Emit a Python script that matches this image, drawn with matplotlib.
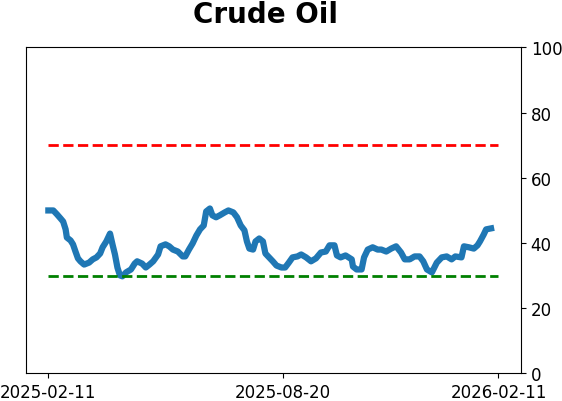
"""
Crude Oil indicator chart
"""
import matplotlib
matplotlib.use('Agg')
import matplotlib.pyplot as plt
import matplotlib.dates as mdates
import pandas as pd

# DATA
#####################
dates = ['2025-02-11', '2025-02-15', '2025-02-18', '2025-02-21', '2025-02-23', '2025-02-25',
         '2025-02-26', '2025-03-01', '2025-03-03', '2025-03-05', '2025-03-07', '2025-03-09',
         '2025-03-12', '2025-03-16', '2025-03-19', '2025-03-22', '2025-03-25', '2025-03-27',
         '2025-03-30', '2025-04-02', '2025-04-04', '2025-04-06', '2025-04-08', '2025-04-10',
         '2025-04-12', '2025-04-15', '2025-04-19', '2025-04-22', '2025-04-24', '2025-04-28',
         '2025-05-01', '2025-05-04', '2025-05-07', '2025-05-11', '2025-05-13', '2025-05-17',
         '2025-05-20', '2025-05-23', '2025-05-27', '2025-05-31', '2025-06-02', '2025-06-05',
         '2025-06-08', '2025-06-11', '2025-06-14', '2025-06-17', '2025-06-19', '2025-06-22',
         '2025-06-24', '2025-06-27', '2025-06-30', '2025-07-04', '2025-07-07', '2025-07-11',
         '2025-07-14', '2025-07-17', '2025-07-20', '2025-07-22', '2025-07-24', '2025-07-27',
         '2025-07-29', '2025-08-01', '2025-08-04', '2025-08-06', '2025-08-09', '2025-08-12',
         '2025-08-15', '2025-08-19', '2025-08-22', '2025-08-25', '2025-08-28', '2025-09-01',
         '2025-09-04', '2025-09-08', '2025-09-12', '2025-09-16', '2025-09-20', '2025-09-24',
         '2025-09-27', '2025-10-01', '2025-10-03', '2025-10-06', '2025-10-10', '2025-10-15',
         '2025-10-16', '2025-10-19', '2025-10-23', '2025-10-25', '2025-10-28', '2025-11-01',
         '2025-11-05', '2025-11-08', '2025-11-12', '2025-11-16', '2025-11-20', '2025-11-24',
         '2025-11-27', '2025-12-01', '2025-12-05', '2025-12-09', '2025-12-12', '2025-12-15',
         '2025-12-19', '2025-12-23', '2025-12-27', '2025-12-31', '2026-01-04', '2026-01-07',
         '2026-01-12', '2026-01-14', '2026-01-18', '2026-01-22', '2026-01-25', '2026-01-27',
         '2026-01-30', '2026-02-01', '2026-02-05']

values = [50.0, 50.0, 48.8, 47.5, 46.6, 44.2,
          41.7, 40.8, 39.6, 37.4, 35.3, 34.4,
          33.4, 34.0, 35.0, 35.6, 36.8, 38.7,
          40.5, 42.9, 39.6, 36.5, 32.5, 30.1,
          29.8, 31.0, 31.9, 33.7, 34.4, 33.7,
          32.5, 33.4, 34.4, 36.5, 39.0, 39.6,
          39.0, 38.0, 37.4, 35.9, 35.9, 38.0,
          39.9, 42.3, 44.2, 45.4, 49.7, 50.6,
          48.5, 47.9, 48.5, 49.4, 50.0, 49.4,
          47.9, 45.4, 43.9, 40.5, 38.3, 38.0,
          40.5, 41.4, 40.5, 36.8, 35.6, 34.4,
          33.1, 32.5, 32.5, 34.0, 35.6, 35.9,
          36.5, 35.6, 34.4, 35.3, 37.1, 37.4,
          39.3, 39.3, 36.2, 35.6, 36.2, 35.0,
          32.8, 31.9, 31.9, 35.6, 38.0, 38.7,
          38.0, 38.0, 37.4, 38.3, 39.0, 37.1,
          35.0, 35.0, 35.9, 35.9, 34.4, 31.9,
          31.0, 34.0, 35.6, 35.9, 35.0, 35.9,
          35.6, 39.0, 38.7, 38.3, 39.3, 40.5,
          42.6, 44.2, 44.5]

level_dates = ['2025-02-11', '2026-02-11']
upper_level = 70
lower_level = 30
tick_dates = ['2025-02-11', '2025-08-20', '2026-02-11']
title = 'Crude Oil'

df = pd.DataFrame({'date': pd.to_datetime(dates), 'value': values})
ld = pd.to_datetime(level_dates)
td = pd.to_datetime(tick_dates)

plt.rcParams.update({'font.size': 12})

fig = plt.figure(figsize=(5.62, 4.02), dpi=100)
ax = fig.add_axes([0.046, 0.0685, 0.881, 0.811])

ax.plot(df.date, df.value, color='#1f77b4', linewidth=4.5)
ax.plot(ld, [upper_level] * len(ld), color='red', linestyle='--', linewidth=2)
ax.plot(ld, [lower_level] * len(ld), color='green', linestyle='--', linewidth=2)

ax.set_ylim(0, 100)
ax.set_yticks([0, 20, 40, 60, 80, 100])
ax.yaxis.tick_right()
ax.set_xticks(td)
ax.xaxis.set_major_formatter(mdates.DateFormatter('%Y-%m-%d'))
ax.set_title(title, fontsize=20, fontweight='bold', pad=18, x=0.484)

fig.savefig('out.png', dpi=100)
